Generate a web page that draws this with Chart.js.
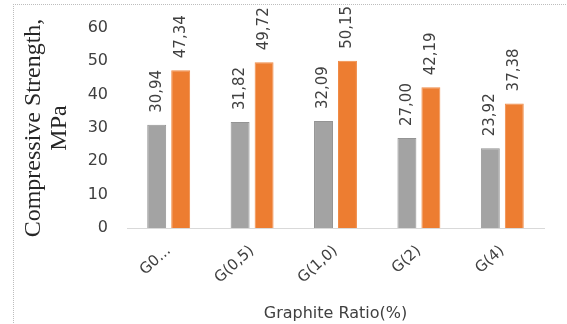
<!DOCTYPE html>
<html>
<head>
<meta charset="utf-8">
<script src="https://cdn.jsdelivr.net/npm/chart.js@4/dist/chart.umd.min.js"></script>
<style>
  html, body { margin: 0; padding: 0; background: #fff; }
  #frame { position: absolute; left: 13px; top: 4px; width: 554px; height: 320px;
           border-left: 1px dotted #bdbdbd; border-top: 1px dotted #bdbdbd; }
  #c { display: block; }
</style>
</head>
<body>
<div id="frame"><canvas id="c" width="554" height="320"></canvas></div>
<script>
const categories = ["G0...", "G(0,5)", "G(1,0)", "G(2)", "G(4)"];
const seriesGray = [30.94, 31.82, 32.09, 27.00, 23.92];
const seriesOrange = [47.34, 49.72, 50.15, 42.19, 37.38];
const yTitle = ["Compressive Strength,", "MPa"];
const xTitle = "Graphite Ratio(%)";

const valueLabels = {
  id: 'valueLabels',
  afterDatasetsDraw(chart) {
    const ctx = chart.ctx;
    ctx.save();
    ctx.font = '15px "DejaVu Sans"';
    ctx.fillStyle = '#404040';
    ctx.textAlign = 'left';
    ctx.textBaseline = 'middle';
    chart.data.datasets.forEach((ds, di) => {
      const meta = chart.getDatasetMeta(di);
      meta.data.forEach((el, i) => {
        const txt = ds.data[i].toFixed(2).replace('.', ',');
        ctx.save();
        ctx.translate(el.x, el.y - 12);
        ctx.rotate(-Math.PI / 2);
        ctx.fillText(txt, 0, 0);
        ctx.restore();
      });
    });
    ctx.restore();
  }
};

new Chart(document.getElementById('c'), {
  type: 'bar',
  data: {
    labels: categories,
    datasets: [
      { label: 'A', data: seriesGray, backgroundColor: '#a3a3a3', borderColor: '#949494', borderWidth: 1,
        categoryPercentage: 0.575, barPercentage: 0.79 },
      { label: 'B', data: seriesOrange, backgroundColor: '#ed7d31', borderColor: '#f08a45', borderWidth: 1,
        categoryPercentage: 0.575, barPercentage: 0.79 }
    ]
  },
  options: {
    responsive: false,
    animation: false,
    layout: { padding: { left: 7, right: 24, top: 23, bottom: 0 } },
    plugins: { legend: { display: false }, tooltip: { enabled: false } },
    scales: {
      x: {
        afterFit(s) { s.height = 97; },
        grid: { display: false, drawTicks: false },
        border: { display: true, color: '#d9d9d9', width: 1 },
        ticks: { color: '#404040', font: { family: 'DejaVu Sans', size: 15 },
                 minRotation: 42, maxRotation: 42, padding: 14, autoSkip: false },
        title: { display: true, text: xTitle, color: '#404040',
                 font: { family: 'DejaVu Sans', size: 16 }, padding: { top: 0, bottom: 2 } }
      },
      y: {
        afterFit(s) { s.width = 106; s.paddingTop = 0; },
        min: 0, max: 60,
        grid: { display: false, drawTicks: false },
        border: { display: false },
        ticks: { stepSize: 10, color: '#404040', font: { family: 'DejaVu Sans', size: 16 }, padding: 19 },
        title: { display: true, text: yTitle, color: '#262626',
                 font: { family: 'Liberation Serif', size: 24, lineHeight: 1.08 }, padding: { top: 0, bottom: 0 } }
      }
    }
  },
  plugins: [valueLabels]
});
</script>
</body>
</html>
